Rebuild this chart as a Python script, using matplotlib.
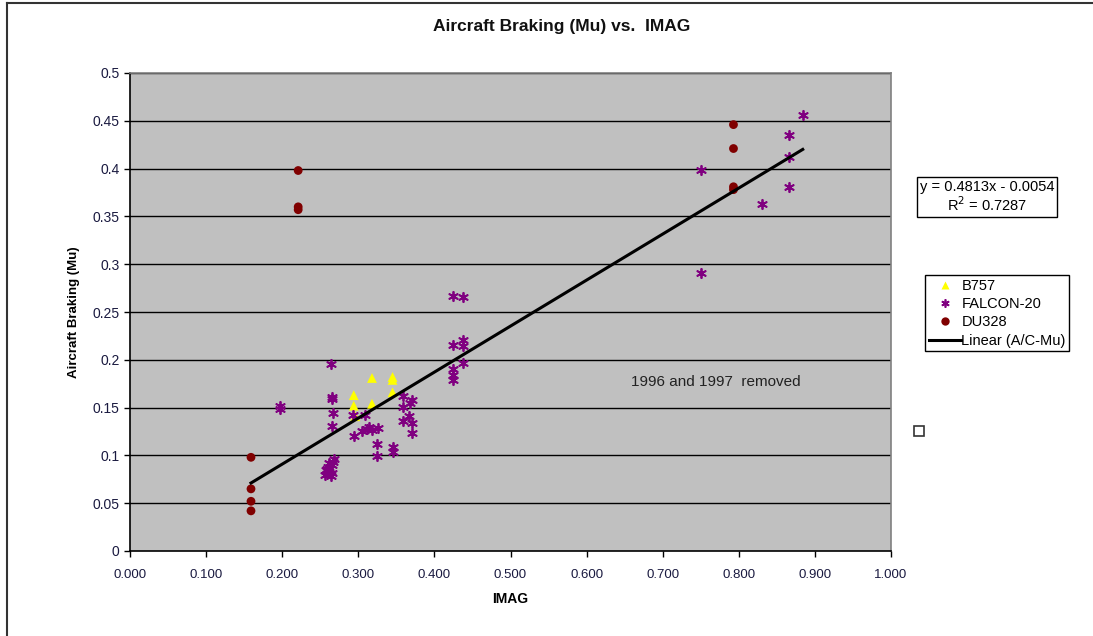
import matplotlib
matplotlib.use("Agg")
import matplotlib.pyplot as plt
from matplotlib.lines import Line2D
from matplotlib.patches import Rectangle
import numpy as np

plt.rcParams['font.family'] = ['Liberation Sans', 'DejaVu Sans']

# ---- data ----
b757_x = [0.318, 0.345, 0.345, 0.294, 0.294, 0.318, 0.345, 0.296]
b757_y = [0.181, 0.182, 0.179, 0.163, 0.152, 0.154, 0.166, 0.141]

falcon_x = [0.750, 0.750, 0.830, 0.866, 0.866, 0.866, 0.884,
            0.425, 0.438, 0.425, 0.438, 0.438, 0.425, 0.425, 0.425, 0.438,
            0.264, 0.197, 0.197, 0.265, 0.266, 0.267, 0.266,
            0.293, 0.309, 0.294, 0.311, 0.305, 0.318, 0.326, 0.314,
            0.325, 0.325, 0.345, 0.345,
            0.359, 0.359, 0.368, 0.367, 0.359, 0.370, 0.370, 0.370,
            0.256, 0.258, 0.260, 0.262, 0.264, 0.266, 0.268, 0.262, 0.259, 0.265, 0.267]
falcon_y = [0.399, 0.291, 0.363, 0.435, 0.412, 0.381, 0.456,
            0.267, 0.266, 0.216, 0.221, 0.214, 0.190, 0.184, 0.179, 0.197,
            0.196, 0.149, 0.152, 0.161, 0.159, 0.144, 0.131,
            0.142, 0.142, 0.120, 0.128, 0.126, 0.127, 0.129, 0.130,
            0.112, 0.099, 0.109, 0.104,
            0.162, 0.151, 0.155, 0.141, 0.136, 0.134, 0.123, 0.158,
            0.080, 0.085, 0.088, 0.083, 0.078, 0.090, 0.096, 0.092, 0.086, 0.082, 0.093]

du328_x = [0.159, 0.159, 0.159, 0.159, 0.221, 0.221, 0.221, 0.793, 0.793, 0.793, 0.793]
du328_y = [0.098, 0.065, 0.052, 0.042, 0.398, 0.360, 0.357, 0.446, 0.421, 0.381, 0.378]

slope, intercept = 0.4813, -0.0054
r2 = 0.7287

x_ticks = np.arange(0, 1.0001, 0.1)
y_ticks = np.arange(0, 0.5001, 0.05)
y_tick_labels = ['0', '0.05', '0.1', '0.15', '0.2', '0.25', '0.3', '0.35', '0.4', '0.45', '0.5']

W, H = 1093, 636
fig = plt.figure(figsize=(W / 100, H / 100), dpi=100)
fig.patch.set_facecolor('white')

def fx(px):
    return px / W

def fy(py):
    return 1 - py / H

ax = fig.add_axes([fx(130), fy(551), fx(891) - fx(130), fy(73) - fy(551)])
ax.set_facecolor('#C0C0C0')
ax.set_xlim(0, 1)
ax.set_ylim(0, 0.5)

for yv in y_ticks[1:]:
    ax.axhline(yv, color='black', lw=1.0, zorder=1)

ax.scatter(b757_x, b757_y, marker='^', s=50, color='#FFFF00', edgecolors='none', zorder=3, label='B757')
ax.scatter(falcon_x, falcon_y, marker=(6, 2, 0), s=45, color='#800080', linewidths=1.3, zorder=3, label='FALCON-20')
ax.scatter(du328_x, du328_y, marker='o', s=40, color='#800000', edgecolors='none', zorder=3, label='DU328')

all_x = np.array(b757_x + falcon_x + du328_x)
xl = np.linspace(all_x.min(), all_x.max(), 50)
ax.plot(xl, slope * xl + intercept, color='black', lw=2.2, zorder=4, label='Linear (A/C-Mu)')

ax.set_xticks(x_ticks)
ax.set_xticklabels([f'{v:.3f}' for v in x_ticks], fontsize=9.5, color='#1a1a40')
ax.set_yticks(y_ticks)
ax.set_yticklabels(y_tick_labels, fontsize=10, color='#1a1a40')
ax.tick_params(axis='both', direction='out', length=4, width=1, color='black')
ax.tick_params(axis='x', pad=9)

for s in ['left', 'bottom']:
    ax.spines[s].set_color('black')
    ax.spines[s].set_linewidth(1.2)
for s in ['top', 'right']:
    ax.spines[s].set_color('#808080')
    ax.spines[s].set_linewidth(1.2)

ax.set_xlabel('IMAG', fontsize=10, fontweight='bold', labelpad=8)
ax.set_ylabel('Aircraft Braking (Mu)', fontsize=9.5, fontweight='bold', labelpad=9)

ax.text(0.658, 0.177, '1996 and 1997  removed', fontsize=11, color='#222222', ha='left', va='center', zorder=5)

fig.text(fx(562), fy(27), 'Aircraft Braking (Mu) vs.  IMAG', fontsize=12.5, fontweight='bold',
         ha='center', va='center', color='#111111')

# equation box
fig.text(fx(987), fy(197), f'y = {slope:.4f}x - {abs(intercept):.4f}\nR$^2$ = {r2:.4f}', fontsize=10.5,
         ha='center', va='center', linespacing=1.1,
         bbox=dict(boxstyle='square,pad=0.2', fc='white', ec='black', lw=1))

handles = [
    Line2D([], [], marker='^', color='#FFFF00', ls='none', markersize=6, markeredgecolor='none'),
    Line2D([], [], marker=(6, 2, 0), color='#800080', ls='none', markersize=6, markeredgewidth=1.2),
    Line2D([], [], marker='o', color='#800000', ls='none', markersize=6, markeredgecolor='none'),
    Line2D([], [], color='black', lw=2.2),
]
labels = ['B757', 'FALCON-20', 'DU328', 'Linear (A/C-Mu)']
leg = fig.legend(handles, labels, loc='upper left', bbox_to_anchor=(fx(925), fy(275)),
                 fontsize=10.5, frameon=True, fancybox=False, edgecolor='black', framealpha=1,
                 handlelength=2.2, handletextpad=0.05, labelspacing=0.3, borderpad=0.25,
                 borderaxespad=0)
leg.get_frame().set_linewidth(1)

# small square
fig.add_artist(Rectangle((fx(914), fy(436)), 10 / W, 10 / H, transform=fig.transFigure,
                         fc='white', ec='#333333', lw=1.2))

# outer frame (left and top)
fig.add_artist(Line2D([fx(7), fx(7)], [fy(3), 0], transform=fig.transFigure, color='#333333', lw=1.5))
fig.add_artist(Line2D([fx(7), 1], [fy(3), fy(3)], transform=fig.transFigure, color='#333333', lw=1.5))

fig.savefig('out.png', dpi=100, facecolor='white')
